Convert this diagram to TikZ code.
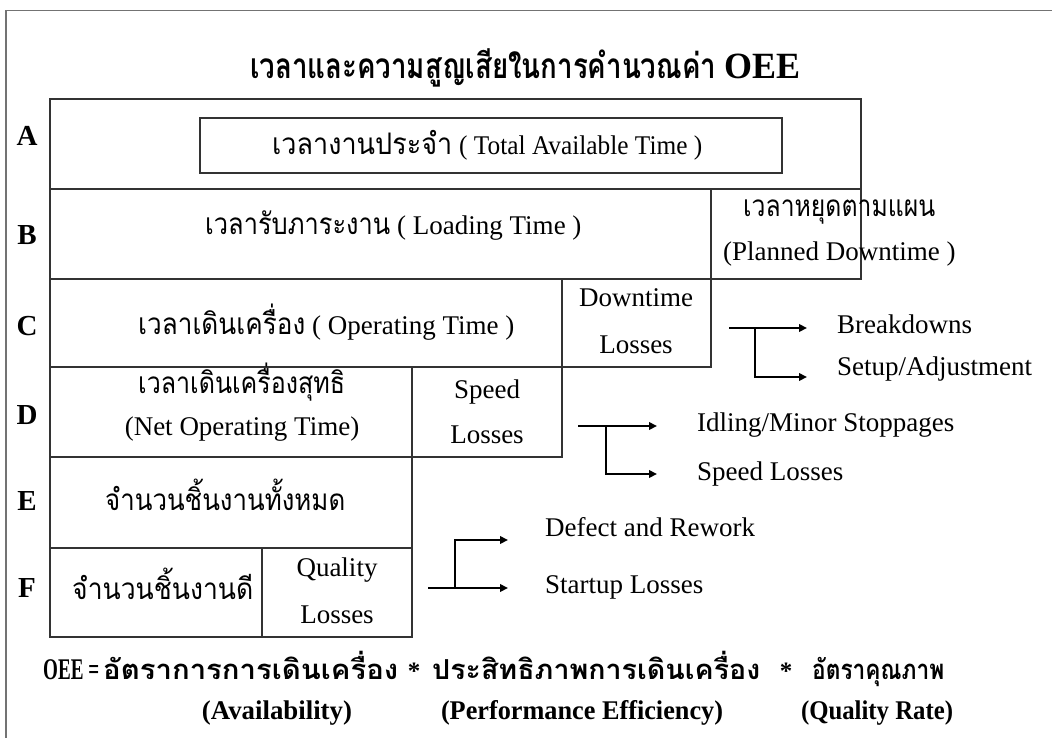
\documentclass[tikz,border=0pt]{standalone}
\usepackage{fontspec}
\usepackage{graphicx}
\setmainfont{Liberation Serif}
\newfontfamily\thaifont[Script=Thai,Scale=1.1]{Loma}
% stretch or squeeze a piece of text to a given width, keeping its height
\newcommand\fitw[2]{\resizebox{#1}{\height}{#2}}
% Thai words set in Loma, fitted to a width
\newcommand\thx[2]{\fitw{#1}{\thaifont #2}}
\usetikzlibrary{arrows.meta}

\begin{document}
\begin{tikzpicture}[x=1pt,y=-1pt,
  frame/.style={draw=black!55, line width=1.3pt},
  cell/.style={draw=black!80, line width=1.6pt, anchor=north west,
    inner sep=0pt, outer sep=0pt},
  txt/.style={inner sep=0pt, anchor=mid, font=\fontsize{27}{32}\selectfont},
  txtl/.style={txt, anchor=mid west},
  rowlbl/.style={inner sep=0pt, anchor=mid, font=\bfseries\fontsize{29}{34}\selectfont},
  heavy/.style={inner sep=0pt, font=\bfseries\fontsize{25}{30}\selectfont},
  brk/.style={line width=2.8pt, line join=miter, -{Triangle[length=8pt,width=7.5pt]}},
]
\useasboundingbox (0,0) rectangle (1052,738);
\fill[white] (0,0) rectangle (1052,738);

% page frame
\draw[frame] (6,738) -- (6,10.5) -- (1052,10.5);

% title
\node[heavy, anchor=mid west, font=\bfseries\fontsize{32}{36}\selectfont] (title) at (250,76)
  {\thx{466pt}{เวลาและความสูญเสียในการคำนวณค่า}\hspace{8pt}{\fontsize{37}{40}\selectfont\fitw{76pt}{OEE}}};

% rows of the time chart
\node[cell, minimum width=811pt, minimum height=90pt] (rowA) at (50,99) {};
\node[cell, minimum width=582pt, minimum height=55pt] (boxA) at (200,118) {};
\node[cell, minimum width=661pt, minimum height=90pt] (rowB) at (50,189) {};
\node[cell, minimum width=150pt, minimum height=90pt] (plan) at (711,189) {};
\node[cell, minimum width=512pt, minimum height=88pt] (rowC) at (50,279) {};
\node[cell, minimum width=149pt, minimum height=88pt] (down) at (562,279) {};
\node[cell, minimum width=362pt, minimum height=90pt] (rowD) at (50,367) {};
\node[cell, minimum width=150pt, minimum height=90pt] (speed) at (412,367) {};
\node[cell, minimum width=362pt, minimum height=91pt] (rowE) at (50,457) {};
\node[cell, minimum width=212pt, minimum height=89pt] (rowF) at (50,548) {};
\node[cell, minimum width=150pt, minimum height=89pt] (qual) at (262,548) {};

% row letters
\node[rowlbl] (lA) at (27,143) {A};
\node[rowlbl] (lB) at (27,242) {B};
\node[rowlbl] (lC) at (27,333) {C};
\node[rowlbl] (lD) at (27,422) {D};
\node[rowlbl] (lE) at (27,508) {E};
\node[rowlbl] (lF) at (27,595) {F};

% cell texts
\node[txtl] (tA) at (272,152) {\thx{180pt}{เวลางานประจำ}\hspace{7pt}\fitw{243pt}{( Total Available Time )}};
\node[txtl] (tB) at (205,232) {\thx{185pt}{เวลารับภาระงาน}\hspace{7pt}( Loading Time )};
\node[txtl] (tP1) at (743,214) {\thx{192pt}{เวลาหยุดตามแผน}};
\node[txtl] (tP2) at (723,258) {(Planned Downtime )};
\node[txtl] (tC) at (138,332) {\thx{167pt}{เวลาเดินเครื่อง}\hspace{7pt}( Operating Time )};
\node[txt] (tDn1) at (636,304) {Downtime};
\node[txt] (tDn2) at (636,351) {Losses};
\node[txtl] (tD1) at (138,391) {\thx{207pt}{เวลาเดินเครื่องสุทธิ}};
\node[txt] (tD2) at (242,433) {(Net Operating Time)};
\node[txt] (tS1) at (487,396) {Speed};
\node[txt] (tS2) at (487,441) {Losses};
\node[txtl] (tE) at (105,508) {\thx{240pt}{จำนวนชิ้นงานทั้งหมด}};
\node[txtl] (tF) at (72,597) {\thx{181pt}{จำนวนชิ้นงานดี}};
\node[txt] (tQ1) at (337,574) {Quality};
\node[txt] (tQ2) at (337,621) {Losses};

% loss categories
\node[txtl] (bd) at (837,331) {Breakdowns};
\node[txtl] (su) at (837,373) {Setup/Adjustment};
\node[txtl] (id) at (697,429) {Idling/Minor Stoppages};
\node[txtl] (sl) at (697,478) {Speed Losses};
\node[txtl] (dr) at (545,534) {Defect and Rework};
\node[txtl] (st) at (545,591) {Startup Losses};

% bracket arrows from each loss cell to its categories
\coordinate (cS) at (729,328); \coordinate (cV) at (755,328);
\coordinate (cE1) at (807,328); \coordinate (cE2) at (807,377);
\draw[brk] (cS) -- (cE1);
\draw[brk] (cV) |- (cE2);

\coordinate (dS) at (578,426); \coordinate (dV) at (606,426);
\coordinate (dE1) at (657,426); \coordinate (dE2) at (657,474);
\draw[brk] (dS) -- (dE1);
\draw[brk] (dV) |- (dE2);

\coordinate (fS) at (428,588); \coordinate (fV) at (455,588);
\coordinate (fE1) at (508,588); \coordinate (fE2) at (508,540);
\draw[brk] (fS) -- (fE1);
\draw[brk] (fV) |- (fE2);

% OEE formula
\node[heavy, anchor=mid west] (oee1) at (43,677)
  {{\fontsize{30}{34}\selectfont\fitw{56pt}{OEE =}}\hspace{4pt}\thx{295pt}{อัตราการการเดินเครื่อง}};
\node[heavy, anchor=mid] (star1) at (414,677) {*};
\node[heavy, anchor=mid west] (oee2) at (432,677)
  {\thx{328pt}{ประสิทธิภาพการเดินเครื่อง}};
\node[heavy, anchor=mid] (star2) at (786,677) {*};
\node[heavy, anchor=mid west] (oee3) at (812,677)
  {\thx{132pt}{อัตราคุณภาพ}};

\node[heavy, anchor=mid, font=\bfseries\fontsize{27}{30}\selectfont] (av) at (277,717) {\fitw{150pt}{(Availability)}};
\node[heavy, anchor=mid, font=\bfseries\fontsize{27}{30}\selectfont] (pe) at (582,717) {\fitw{282pt}{(Performance Efficiency)}};
\node[heavy, anchor=mid, font=\bfseries\fontsize{27}{30}\selectfont] (qr) at (877,717) {\fitw{152pt}{(Quality Rate)}};
\end{tikzpicture}
\end{document}
